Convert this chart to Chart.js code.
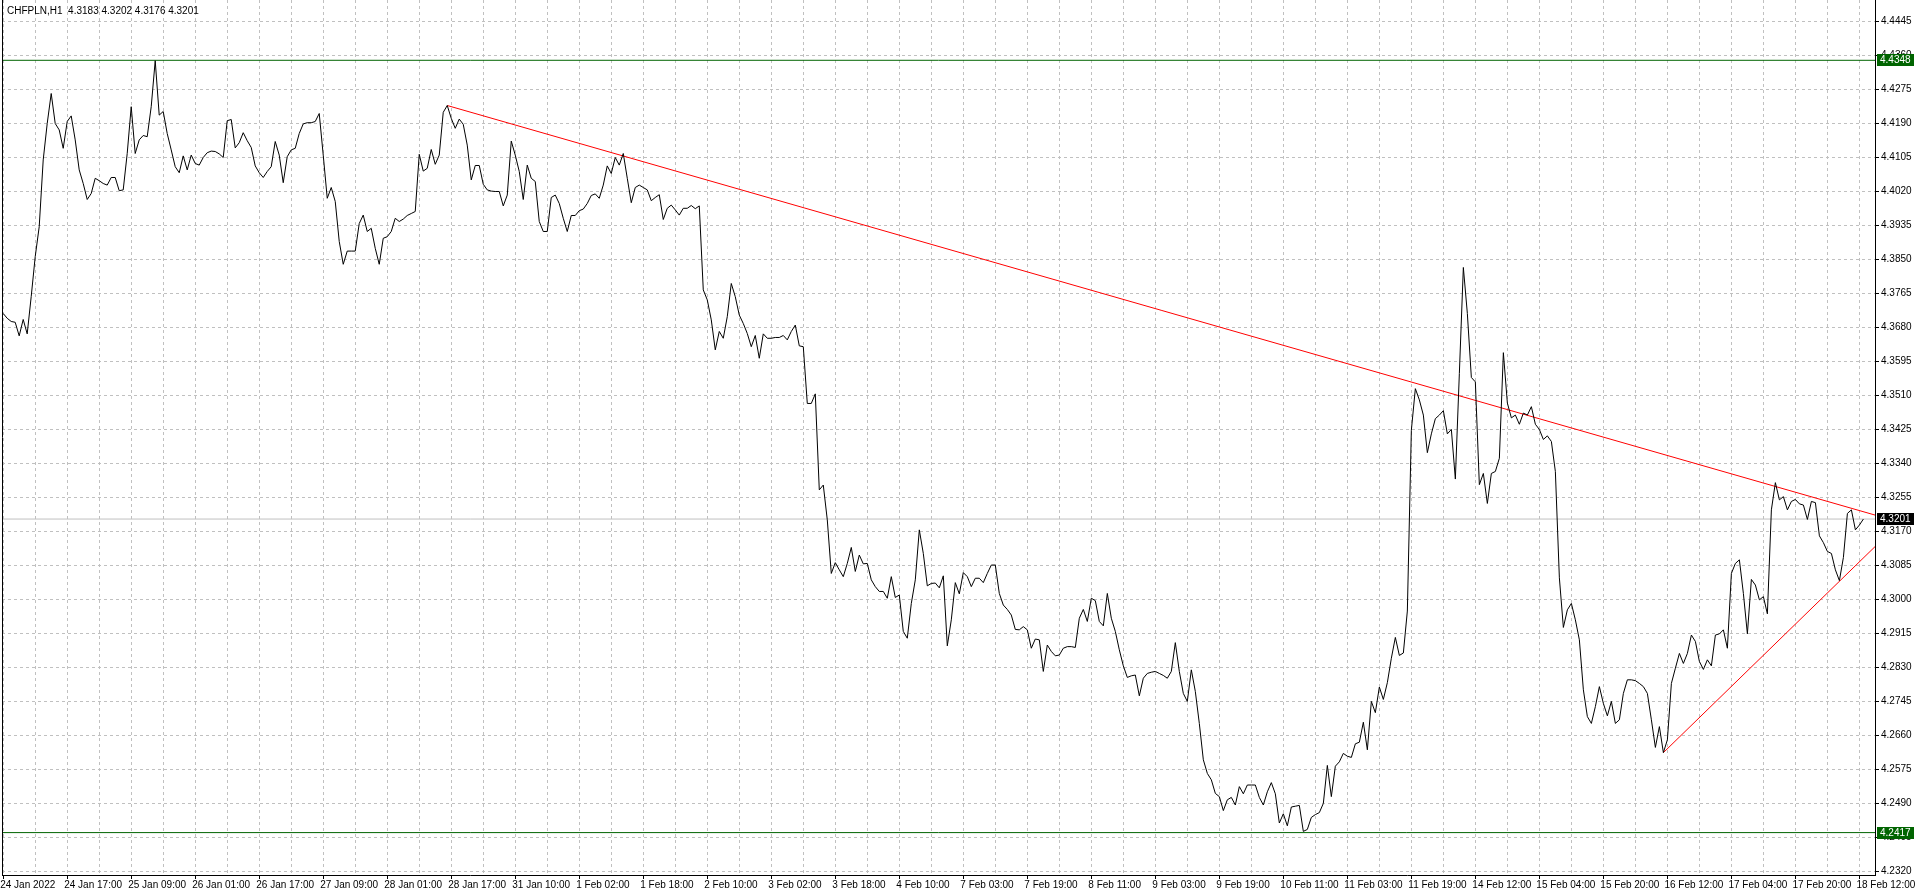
<!DOCTYPE html>
<html>
<head>
<meta charset="utf-8">
<title>CHFPLN,H1</title>
<script src="https://cdn.jsdelivr.net/npm/chart.js@4.4.1/dist/chart.umd.min.js"></script>
<style>
  html, body { margin: 0; padding: 0; background: #fff; }
  #wrap { width: 1916px; height: 896px; }
</style>
</head>
<body>
<div id="wrap"><canvas id="chart" width="1916" height="896"></canvas></div>
<script>
const symbolTitle = 'CHFPLN,H1  4.3183 4.3202 4.3176 4.3201';

// one label every 16 hourly bars
const xTickLabels = [
  '24 Jan 2022', '24 Jan 17:00', '25 Jan 09:00', '26 Jan 01:00', '26 Jan 17:00',
  '27 Jan 09:00', '28 Jan 01:00', '28 Jan 17:00', '31 Jan 10:00', '1 Feb 02:00',
  '1 Feb 18:00', '2 Feb 10:00', '3 Feb 02:00', '3 Feb 18:00', '4 Feb 10:00',
  '7 Feb 03:00', '7 Feb 19:00', '8 Feb 11:00', '9 Feb 03:00', '9 Feb 19:00',
  '10 Feb 11:00', '11 Feb 03:00', '11 Feb 19:00', '14 Feb 12:00', '15 Feb 04:00',
  '15 Feb 20:00', '16 Feb 12:00', '17 Feb 04:00', '17 Feb 20:00', '18 Feb 12:00'
];

const yTickValues = [
  4.2320, 4.2405, 4.2490, 4.2575, 4.2660, 4.2745, 4.2830, 4.2915, 4.3000,
  4.3085, 4.3170, 4.3255, 4.3340, 4.3425, 4.3510, 4.3595, 4.3680, 4.3765,
  4.3850, 4.3935, 4.4020, 4.4105, 4.4190, 4.4275, 4.4360, 4.4445
];

// hourly closes, 24 Jan - 28 Jan
const week1 = [
  4.3715, 4.3703, 4.3695, 4.3693, 4.3659, 4.3700, 4.3664, 4.3757, 4.3857, 4.3932,
  4.4099, 4.4190, 4.4265, 4.4190, 4.4174, 4.4128, 4.4195, 4.4209, 4.4149, 4.4074,
  4.4040, 4.4000, 4.4015, 4.4053, 4.4047, 4.4040, 4.4036, 4.4055, 4.4055, 4.4022,
  4.4024, 4.4115, 4.4232, 4.4115, 4.4149, 4.4160, 4.4157, 4.4232, 4.4347, 4.4211,
  4.4220, 4.4165, 4.4124, 4.4082, 4.4067, 4.4109, 4.4074, 4.4111, 4.4090, 4.4086,
  4.4105, 4.4117, 4.4121, 4.4120, 4.4114, 4.4105, 4.4197, 4.4200, 4.4129, 4.4142,
  4.4167, 4.4147, 4.4130, 4.4084, 4.4067, 4.4055, 4.4070, 4.4082, 4.4145, 4.4111,
  4.4042, 4.4107, 4.4124, 4.4128, 4.4165, 4.4189, 4.4192, 4.4192, 4.4195, 4.4215,
  4.4111, 4.4003, 4.4030, 4.3995, 4.3895, 4.3838, 4.3871, 4.3871, 4.3871, 4.3940,
  4.3961, 4.3920, 4.3928, 4.3878, 4.3838, 4.3903, 4.3907, 4.3920, 4.3953, 4.3945,
  4.3951, 4.3960, 4.3965, 4.3970, 4.4113, 4.4071, 4.4078, 4.4125, 4.4088, 4.4111,
  4.4218, 4.4235, 4.4203, 4.4178, 4.4201, 4.4188, 4.4136, 4.4049, 4.4085
];

// 31 Jan - 4 Feb
const week2 = [
  4.4085, 4.4038, 4.4024, 4.4021, 4.4020, 4.4020, 4.3984, 4.4011, 4.4146, 4.4111,
  4.4070, 4.4000, 4.4086, 4.4053, 4.4045, 4.3945, 4.3920, 4.3920, 4.4005, 4.4011,
  4.3990, 4.3953, 4.3920, 4.3960, 4.3960, 4.3972, 4.3976, 4.3990, 4.4010, 4.4014,
  4.4003, 4.4036, 4.4084, 4.4065, 4.4105, 4.4086, 4.4115, 4.4053, 4.3992, 4.4030,
  4.4036, 4.4030, 4.4024, 4.3997, 4.4005, 4.4012, 4.3950, 4.3978, 4.3986, 4.3974,
  4.3961, 4.3978, 4.3978, 4.3985, 4.3977, 4.3984, 4.3774, 4.3749, 4.3699, 4.3624,
  4.3670, 4.3653, 4.3707, 4.3790, 4.3757, 4.3711, 4.3690, 4.3665, 4.3632, 4.3660,
  4.3603, 4.3664, 4.3653, 4.3653, 4.3655, 4.3655, 4.3660, 4.3649, 4.3670, 4.3686,
  4.3634, 4.3632, 4.3490, 4.3490, 4.3514, 4.3274, 4.3286, 4.3199, 4.3065, 4.3092,
  4.3074, 4.3057, 4.3090, 4.3130, 4.3070, 4.3111, 4.3089, 4.3090, 4.3049, 4.3032,
  4.3020, 4.3020, 4.3003, 4.3057, 4.3005, 4.3011, 4.2920, 4.2903, 4.2990, 4.3049,
  4.3174, 4.3115, 4.3034, 4.3040, 4.3041, 4.3029, 4.3059, 4.2884, 4.2949
];

// 7 Feb - 11 Feb
const week3 = [
  4.3042, 4.3014, 4.3067, 4.3057, 4.3032, 4.3053, 4.3053, 4.3042, 4.3065, 4.3086,
  4.3086, 4.3015, 4.2986, 4.2975, 4.2961, 4.2925, 4.2924, 4.2932, 4.2924, 4.2878,
  4.2901, 4.2899, 4.2820, 4.2886, 4.2870, 4.2859, 4.2861, 4.2878, 4.2882, 4.2882,
  4.2880, 4.2953, 4.2975, 4.2945, 4.3003, 4.2997, 4.2945, 4.2934, 4.3015, 4.2953,
  4.2920, 4.2874, 4.2834, 4.2805, 4.2809, 4.2811, 4.2759, 4.2803, 4.2815, 4.2818,
  4.2820, 4.2815, 4.2810, 4.2803, 4.2820, 4.2892, 4.2820, 4.2765, 4.2745, 4.2824,
  4.2770, 4.2690, 4.2599, 4.2565, 4.2549, 4.2515, 4.2507, 4.2472, 4.2499, 4.2505,
  4.2486, 4.2532, 4.2514, 4.2536, 4.2536, 4.2536, 4.2505, 4.2486, 4.2519, 4.2542,
  4.2514, 4.2441, 4.2464, 4.2434, 4.2481, 4.2483, 4.2485, 4.2420, 4.2425, 4.2455,
  4.2462, 4.2467, 4.2490, 4.2585, 4.2507, 4.2583, 4.2594, 4.2615, 4.2608, 4.2605,
  4.2639, 4.2643, 4.2693, 4.2624, 4.2745, 4.2717, 4.2781, 4.2750, 4.2792, 4.2853,
  4.2905, 4.2860, 4.2866, 4.2971, 4.3423, 4.3527, 4.3499, 4.3461, 4.3367
];

// 14 Feb - 18 Feb 13:00
const week4 = [
  4.3414, 4.3452, 4.3461, 4.3472, 4.3414, 4.3425, 4.3301, 4.3565, 4.3830, 4.3715,
  4.3555, 4.3544, 4.3287, 4.3315, 4.3240, 4.3315, 4.3320, 4.3353, 4.3617, 4.3491,
  4.3454, 4.3461, 4.3438, 4.3466, 4.3461, 4.3482, 4.3438, 4.3425, 4.3400, 4.3409,
  4.3395, 4.3320, 4.3054, 4.2930, 4.2974, 4.2990, 4.2949, 4.2899, 4.2774, 4.2707,
  4.2690, 4.2732, 4.2782, 4.2740, 4.2709, 4.2745, 4.2690, 4.2699, 4.2765, 4.2799,
  4.2799, 4.2797, 4.2790, 4.2782, 4.2765, 4.2699, 4.2630, 4.2682, 4.2617, 4.2649,
  4.2790, 4.2828, 4.2865, 4.2840, 4.2865, 4.2911, 4.2895, 4.2845, 4.2825, 4.2849,
  4.2834, 4.2911, 4.2914, 4.2924, 4.2878, 4.3065, 4.3090, 4.3099, 4.3015, 4.2914,
  4.3050, 4.3036, 4.2999, 4.3007, 4.2964, 4.3224, 4.3292, 4.3249, 4.3257, 4.3224,
  4.3245, 4.3250, 4.3239, 4.3236, 4.3200, 4.3245, 4.3242, 4.3159, 4.3142, 4.3120,
  4.3115, 4.3074, 4.3047, 4.3105, 4.3215, 4.3224, 4.3174, 4.3186, 4.3201
];

const closes = [...week1, ...week2, ...week3, ...week4];

// trend lines: [bar, price] at both ends
const upperTrendBars = [111, 467.9];
const upperTrendPrices = [4.4235, 4.3211];
const lowerTrendBars = [415, 467.9];
const lowerTrendPrices = [4.2617, 4.3132];

// horizontal levels
const levelValues = [4.4348, 4.3201, 4.2417];
const levelLineColors = ['#006400', '#c0c0c0', '#006400'];
const levelBoxColors = ['#006400', '#000000', '#006400'];

const xMin = -0.3, xMax = 467.9;
const yMin = 4.2311, yMax = 4.44988;

const font = { family: '"Liberation Sans", Arial, sans-serif', size: 10 };
const gridColor = '#c0c0c0';

const seriesData = closes.map((c, i) => ({ x: i, y: c }));
const pairs = (xs, ys) => xs.map((x, i) => ({ x: x, y: ys[i] }));

const levelSets = levelValues.map((v, i) => ({
  data: [{ x: xMin, y: v }, { x: xMax, y: v }],
  borderColor: levelLineColors[i],
  borderWidth: 1,
  pointRadius: 0,
  order: 3
}));

const overlay = {
  id: 'overlay',
  afterDraw(chart) {
    const { ctx, chartArea: a, scales } = chart;
    ctx.save();
    ctx.strokeStyle = '#000';
    ctx.lineWidth = 1;
    ctx.beginPath();
    ctx.moveTo(a.left + 0.5, a.top);
    ctx.lineTo(a.left + 0.5, a.bottom);
    ctx.stroke();

    ctx.font = font.size + 'px ' + font.family;
    ctx.textBaseline = 'middle';
    ctx.textAlign = 'left';
    ctx.fillStyle = '#000';
    ctx.fillText(symbolTitle, a.left + 5, 11);

    levelValues.forEach((v, i) => {
      const py = Math.round(scales.y.getPixelForValue(v));
      ctx.fillStyle = levelBoxColors[i];
      ctx.fillRect(a.right + 2, py - 6, 37, 12);
      ctx.fillStyle = '#fff';
      ctx.fillText(v.toFixed(4), a.right + 5, py);
    });
    ctx.restore();
  }
};

const chart = new Chart(document.getElementById('chart'), {
  type: 'line',
  data: {
    datasets: [
      {
        data: seriesData,
        borderColor: '#000',
        borderWidth: 1,
        pointRadius: 0,
        tension: 0,
        order: 1
      },
      {
        data: pairs(upperTrendBars, upperTrendPrices),
        borderColor: '#ff0000',
        borderWidth: 1,
        pointRadius: 0,
        order: 2
      },
      {
        data: pairs(lowerTrendBars, lowerTrendPrices),
        borderColor: '#ff0000',
        borderWidth: 1,
        pointRadius: 0,
        order: 2
      },
      ...levelSets
    ]
  },
  options: {
    responsive: false,
    animation: false,
    events: [],
    layout: { padding: { left: 2, top: 0, right: 0, bottom: 0 } },
    plugins: { legend: { display: false }, tooltip: { enabled: false } },
    scales: {
      x: {
        type: 'linear',
        position: 'bottom',
        min: xMin,
        max: xMax,
        afterBuildTicks: s => {
          const t = [];
          for (let b = 0; b <= 464; b += 8) t.push({ value: b });
          s.ticks = t;
        },
        ticks: {
          autoSkip: false,
          maxRotation: 0,
          minRotation: 0,
          align: 'start',
          labelOffset: -3,
          padding: 0,
          color: '#000',
          font: font,
          callback: v => (v % 16 === 0 ? xTickLabels[v / 16] : '')
        },
        grid: {
          color: gridColor,
          lineWidth: 1,
          tickLength: 4,
          tickColor: c => (c.tick && c.tick.value % 16 === 0 ? '#000' : 'rgba(0,0,0,0)')
        },
        border: { display: true, color: '#000', width: 1, dash: [3, 3] },
        afterFit: s => { s.height = 21; s.paddingLeft = 0; s.paddingRight = 0; }
      },
      y: {
        type: 'linear',
        position: 'right',
        min: yMin,
        max: yMax,
        afterBuildTicks: s => { s.ticks = yTickValues.map(v => ({ value: v })); },
        ticks: {
          autoSkip: false,
          padding: 2,
          color: '#000',
          font: font,
          callback: v => v.toFixed(4)
        },
        grid: { color: gridColor, lineWidth: 1, tickLength: 4, tickColor: '#000' },
        border: { display: true, color: '#000', width: 1, dash: [3, 3] },
        afterFit: s => { s.width = 41; s.paddingTop = 0; s.paddingBottom = 0; }
      }
    }
  },
  plugins: [overlay]
});
</script>
</body>
</html>
